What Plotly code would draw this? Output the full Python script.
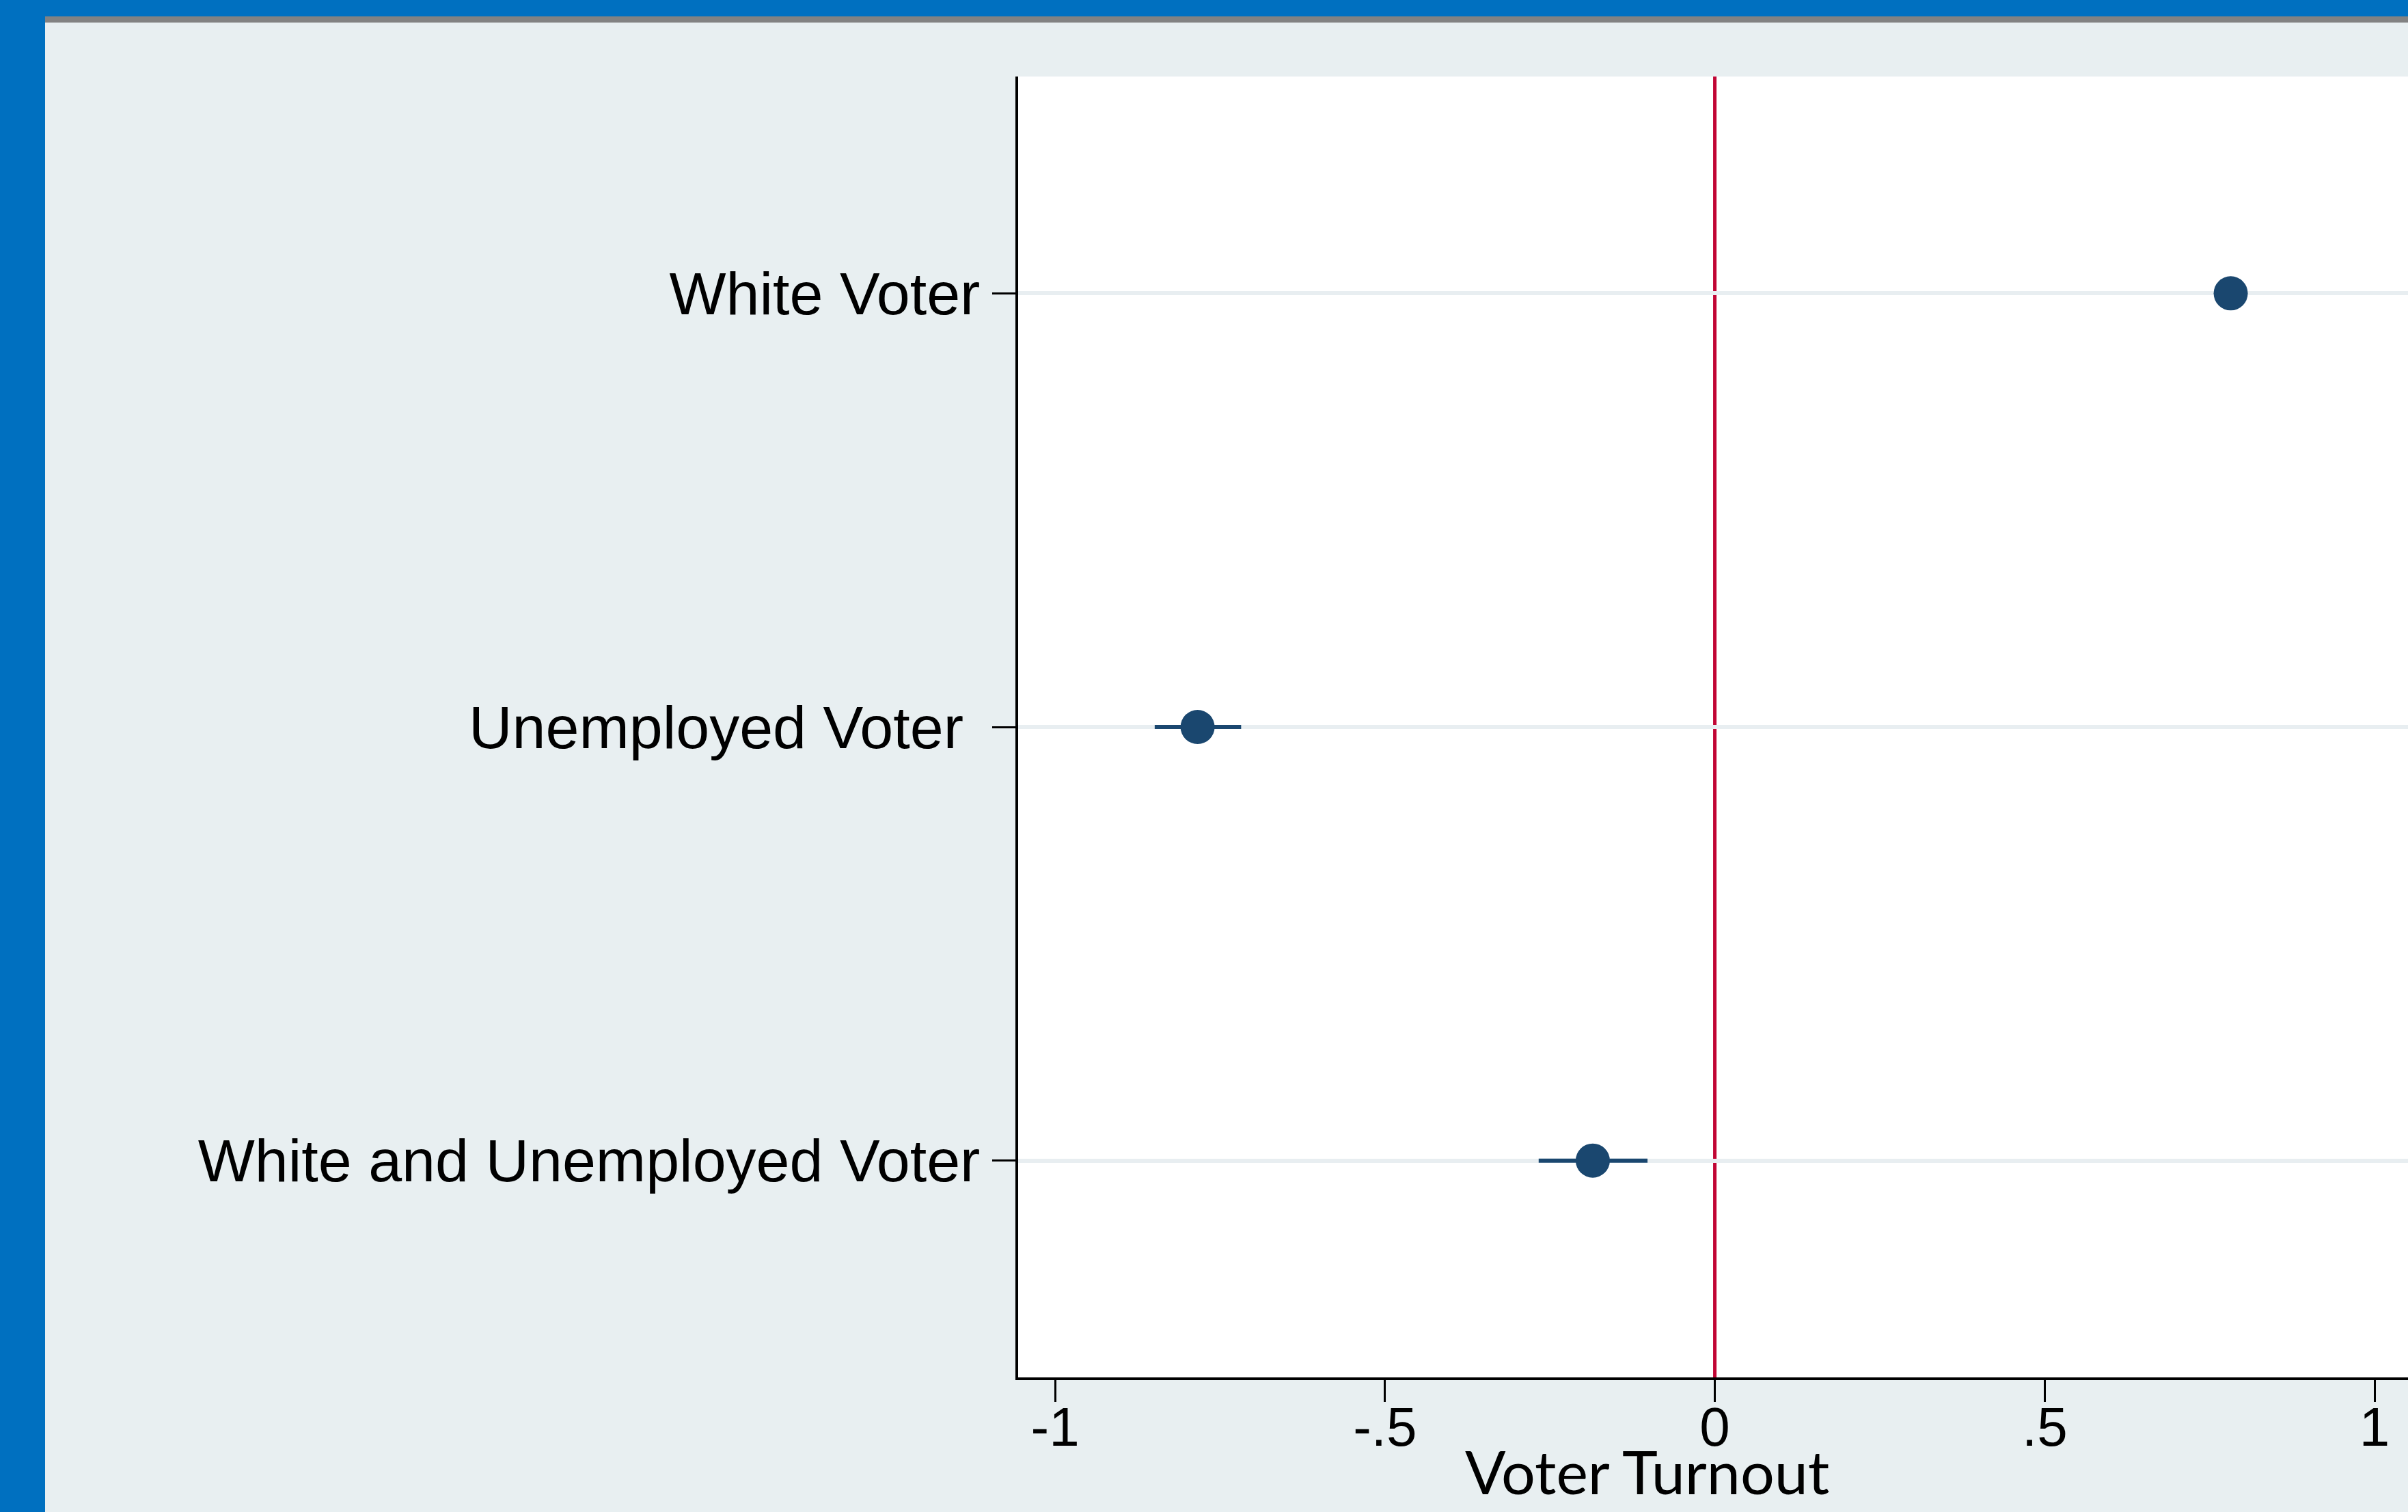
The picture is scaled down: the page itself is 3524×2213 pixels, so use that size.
import plotly.graph_objects as go

# Coefficient estimates with 95% confidence bounds
categories = ["White Voter", "Unemployed Voter\u00a0", "White and Unemployed Voter"]
estimates = [0.782, -0.784, -0.185]
ci_low = [0.764, -0.849, -0.267]
ci_high = [0.800, -0.718, -0.102]

x_tickvals = [-1, -0.5, 0, 0.5, 1]
x_ticktext = ["-1", "-.5", "0", ".5", "1"]
reference_x = 0
axis_title = "Voter Turnout"

W, H = 3524, 2213
M_L, M_R, M_T, M_B = 1490, 0, 112, 197
PLOT_W = W - M_L - M_R
PLOT_H = H - M_T - M_B

NAVY = "#1a476f"
RED = "#c10534"
BG = "#e8eff1"
FRAME_BLUE = "#0070c0"


def px_x(p):
    return (p - M_L) / PLOT_W


def px_y(p):
    return (H - M_B - p) / PLOT_H


fig = go.Figure()

fig.add_trace(go.Scatter(
    x=estimates,
    y=categories,
    mode="markers",
    marker=dict(size=50, color=NAVY, line=dict(width=0)),
    error_x=dict(
        type="data",
        symmetric=False,
        array=[h - e for h, e in zip(ci_high, estimates)],
        arrayminus=[e - l for e, l in zip(estimates, ci_low)],
        color=NAVY,
        thickness=6,
        width=0,
    ),
    showlegend=False,
    hoverinfo="skip",
))

fig.add_vline(x=reference_x, line=dict(color=RED, width=5), layer="below")

# Slide frame: blue side strip, blue top band and grey rule beneath it
frame = [
    dict(x0=px_x(0), x1=px_x(W), y0=px_y(0), y1=px_y(24), color=FRAME_BLUE),
    dict(x0=px_x(66), x1=px_x(W), y0=px_y(24), y1=px_y(33), color="#828282"),
    dict(x0=px_x(0), x1=px_x(66), y0=px_y(0), y1=px_y(H), color=FRAME_BLUE),
]
for f in frame:
    fig.add_shape(type="rect", xref="paper", yref="paper",
                  x0=f["x0"], x1=f["x1"], y0=f["y0"], y1=f["y1"],
                  fillcolor=f["color"], line=dict(width=0), layer="above")

fig.add_annotation(
    text=axis_title, xref="paper", yref="paper",
    x=px_x(2143), y=px_y(2199), xanchor="left", yanchor="bottom",
    showarrow=False, yshift=-8, borderpad=0,
    font=dict(family="Lato", size=88, color="black"),
)

fig.update_layout(
    width=W, height=H,
    margin=dict(l=M_L, r=M_R, t=M_T, b=M_B, pad=0),
    paper_bgcolor=BG,
    plot_bgcolor="white",
    xaxis=dict(
        range=[-1.056, 1.0507],
        tickvals=x_tickvals,
        ticktext=x_ticktext,
        ticks="outside", ticklen=32, tickwidth=3, tickcolor="black",
        ticklabelstandoff=-32,
        showline=True, linecolor="black", linewidth=4,
        showgrid=False, zeroline=False,
        tickfont=dict(family="Liberation Sans", size=80, color="black"),
    ),
    yaxis=dict(
        type="category",
        categoryorder="array", categoryarray=categories,
        range=[2.5, -0.5],
        ticks="outside", ticklen=34, tickwidth=3, tickcolor="black",
        showline=True, linecolor="black", linewidth=4,
        showgrid=True, gridcolor="#e8eef1", gridwidth=6,
        zeroline=False,
        tickfont=dict(family="Liberation Sans", size=88, color="black"),
    ),
)

fig.write_html("out.html")
